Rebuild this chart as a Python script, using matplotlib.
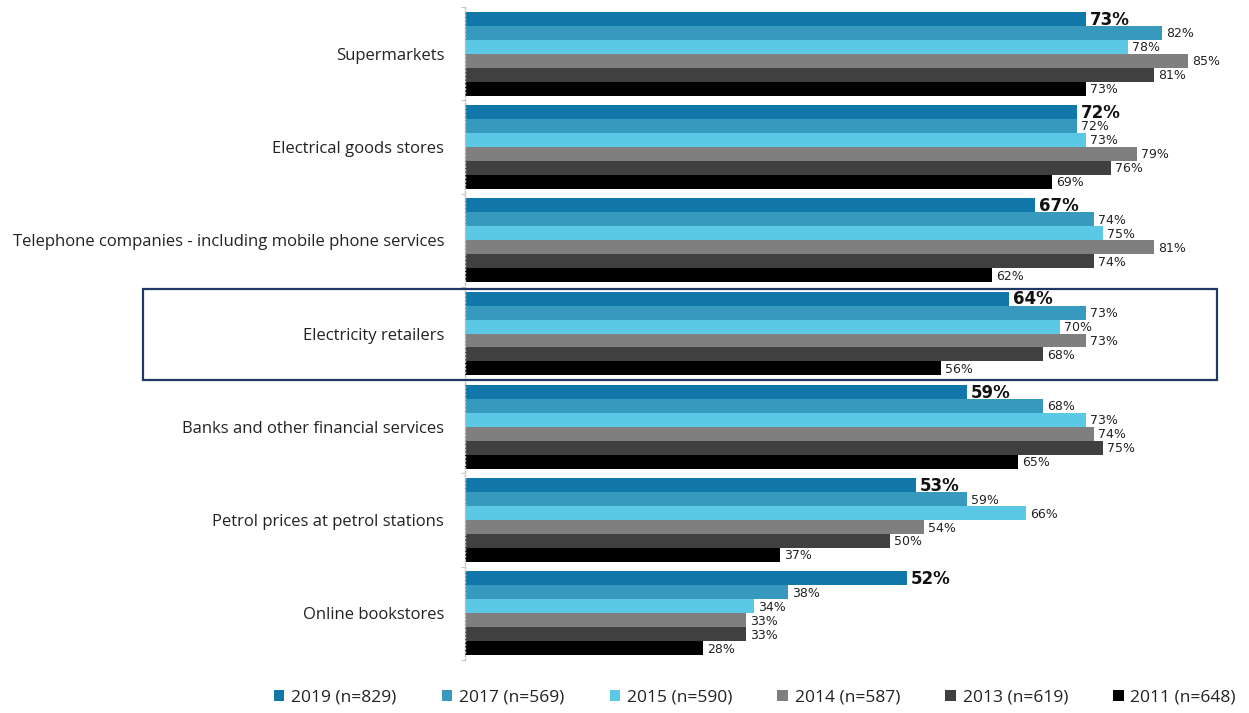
import numpy as np
import matplotlib.pyplot as plt
from matplotlib.patches import Rectangle

# categories, top to bottom
categories = [
    "Supermarkets",
    "Electrical goods stores",
    "Telephone companies - including mobile phone services",
    "Electricity retailers",
    "Banks and other financial services",
    "Petrol prices at petrol stations",
    "Online bookstores",
]

series_names = ["2019 (n=829)", "2017 (n=569)", "2015 (n=590)",
                "2014 (n=587)", "2013 (n=619)", "2011 (n=648)"]

v2019 = [73, 72, 67, 64, 59, 53, 52]
v2017 = [82, 72, 74, 73, 68, 59, 38]
v2015 = [78, 73, 75, 70, 73, 66, 34]
v2014 = [85, 79, 81, 73, 74, 54, 33]
v2013 = [81, 76, 74, 68, 75, 50, 33]
v2011 = [73, 69, 62, 56, 65, 37, 28]

colors = ["#1177A8", "#3799BE", "#5BC8E6", "#7F7F7F", "#404040", "#000000"]

plt.rcParams["font.family"] = ["Open Sans", "DejaVu Sans"]

fig = plt.figure(figsize=(12.49, 7.13), dpi=100)
ax = fig.add_axes([465 / 1249, 1 - 660 / 713, 782 / 1249, 653 / 713])

series = [v2019, v2017, v2015, v2014, v2013, v2011]
y = np.arange(len(categories))
h = 0.15

for i, (vals, col, name) in enumerate(zip(series, colors, series_names)):
    pos = y + (i - 2.5) * h
    ax.barh(pos, vals, height=h, color=col, label=name)
    for p, v in zip(pos, vals):
        if i == 0:
            ax.text(v + 0.5, p + 0.01, f"{v}%", va="center", ha="left",
                    fontsize=12, fontweight="bold", color="#111111",
                    family="DejaVu Sans")
        else:
            ax.text(v + 0.5, p + 0.01, f"{v}%", va="center", ha="left",
                    fontsize=9, color="#222222", family="DejaVu Sans")

ax.set_xlim(0, 92)
ax.set_ylim(6.5, -0.5)
ax.set_xticks([])
ax.set_yticks(y)
ax.set_yticklabels(categories, fontsize=12, color="#222222")
ax.tick_params(axis="y", which="major", length=0, pad=15)
ax.set_yticks(np.arange(-0.5, 7, 1), minor=True)
ax.tick_params(axis="y", which="minor", length=3, color="#C8C8C8", width=0.8)

for s in ["top", "right", "bottom"]:
    ax.spines[s].set_visible(False)
ax.spines["left"].set_color("#BFBFBF")
ax.spines["left"].set_linestyle(":")
ax.spines["left"].set_linewidth(1)

# frame round the electricity retailers group
fig.patches.append(Rectangle((143 / 1249, 1 - 380 / 713), (1217 - 143) / 1249,
                             (380 - 289) / 713, transform=fig.transFigure,
                             fill=False, edgecolor="#1F3864", linewidth=1.6))

fig.legend(loc="center", bbox_to_anchor=(755 / 1249, 1 - 698 / 713), ncol=6,
           frameon=False, fontsize=12.5, handlelength=0.6, handleheight=0.6,
           handletextpad=0.4, columnspacing=2.6, labelcolor="#222222")

plt.savefig("out.png", dpi=100)
